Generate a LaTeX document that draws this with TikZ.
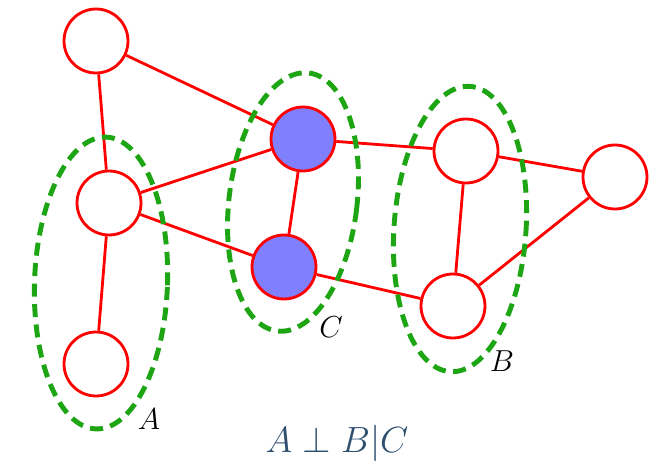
\documentclass[tikz,border=0pt]{standalone}
\usepackage{amsmath,amssymb}
\usepackage{xcolor}
\usepackage{tikz}
\definecolor{formulablue}{RGB}{47,79,111}
\definecolor{groupgreen}{RGB}{30,165,20}

\begin{document}
\begin{tikzpicture}[x=0.02cm, y=-0.02cm,
  vertex/.style={circle, draw=red, line width=1.6pt, fill=white, minimum size=1.28cm, inner sep=0pt},
  given/.style={vertex, fill=blue!50},
  edge/.style={red, line width=1.6pt},
  group/.style={draw=groupgreen, line width=2.8pt, dash pattern=on 0.26cm off 0.15cm},
  setname/.style={font=\fontsize{19}{22}\selectfont}]
  \useasboundingbox (0,0) rectangle (664,473);

  % --- 1. Vertices ---
  \node[vertex] (top)  at (96,41)   {};
  \node[vertex] (aup)  at (109,203) {};
  \node[vertex] (alow) at (96,364)  {};
  \node[given]  (cup)  at (303,139) {};
  \node[given]  (clow) at (284,267) {};
  \node[vertex] (bup)  at (466,151) {};
  \node[vertex] (blow) at (453,306) {};
  \node[vertex] (far)  at (615,177) {};

  % --- 2. Edges ---
  \draw[edge] (top) -- (aup);
  \draw[edge] (top) -- (cup);
  \draw[edge] (aup) -- (alow);
  \draw[edge] (aup) -- (cup);
  \draw[edge] (aup) -- (clow);
  \draw[edge] (cup) -- (clow);
  \draw[edge] (cup) -- (bup);
  \draw[edge] (clow) -- (blow);
  \draw[edge] (bup) -- (blow);
  \draw[edge] (bup) -- (far);
  \draw[edge] (blow) -- (far);

  % --- 3. Groups A, C, B ---
  \draw[group, rotate around={-2:(101,283)}] (101,283) ellipse [x radius=1.33cm, y radius=2.92cm];
  \draw[group, rotate around={-7:(293,202)}] (293,202) ellipse [x radius=1.28cm, y radius=2.6cm];
  \draw[group, rotate around={-4:(460,229)}] (460,229) ellipse [x radius=1.32cm, y radius=2.86cm];

  % --- 4. Labels ---
  \node[setname] (la) at (149,419) {$A$};
  \node[setname] (lc) at (331,327) {$C$};
  \node[setname] (lb) at (502,361) {$B$};
  \node[font=\fontsize{22}{26}\selectfont, text=formulablue] (rule) at (337,443) {$A \perp B|C$};

\end{tikzpicture}
\end{document}
